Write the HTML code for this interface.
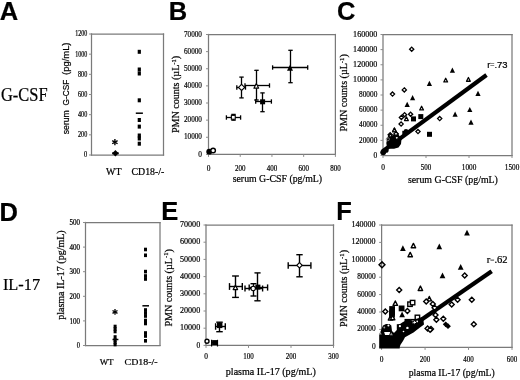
<!DOCTYPE html>
<html><head><meta charset="utf-8"><style>
html,body{margin:0;padding:0;background:#fff;}
svg{display:block;filter:grayscale(100%);}
text{stroke:#000;stroke-width:0.22px;}
</style></head><body>
<svg width="520" height="380" viewBox="0 0 520 380">
<rect width="520" height="380" fill="#fff"/>
<text x="-0.20" y="20.00" font-family="&quot;Liberation Sans&quot;, sans-serif" font-size="25.5" font-weight="bold" text-anchor="start" fill="#000">A</text>
<text x="1.00" y="101.40" font-family="&quot;Liberation Serif&quot;, serif" font-size="18" font-weight="normal" text-anchor="start" fill="#000" textLength="46.6" lengthAdjust="spacingAndGlyphs">G-CSF</text>
<line x1="91.50" y1="33.38" x2="91.50" y2="155.62" stroke="#7a7a7a" stroke-width="1.25"/>
<line x1="163.50" y1="33.38" x2="163.50" y2="155.62" stroke="#7a7a7a" stroke-width="1.25"/>
<line x1="90.88" y1="34.00" x2="164.12" y2="34.00" stroke="#7a7a7a" stroke-width="1.25"/>
<line x1="90.88" y1="155.00" x2="164.12" y2="155.00" stroke="#7a7a7a" stroke-width="1.25"/>
<line x1="89.00" y1="155.00" x2="91.50" y2="155.00" stroke="#8c8c8c" stroke-width="1"/>
<text x="87.20" y="157.40" font-family="&quot;Liberation Serif&quot;, serif" font-size="7.5" font-weight="normal" text-anchor="end" fill="#000" textLength="3.2" lengthAdjust="spacingAndGlyphs">0</text>
<line x1="89.00" y1="134.83" x2="91.50" y2="134.83" stroke="#8c8c8c" stroke-width="1"/>
<text x="87.20" y="137.23" font-family="&quot;Liberation Serif&quot;, serif" font-size="7.5" font-weight="normal" text-anchor="end" fill="#000" textLength="9.2" lengthAdjust="spacingAndGlyphs">200</text>
<line x1="89.00" y1="114.67" x2="91.50" y2="114.67" stroke="#8c8c8c" stroke-width="1"/>
<text x="87.20" y="117.07" font-family="&quot;Liberation Serif&quot;, serif" font-size="7.5" font-weight="normal" text-anchor="end" fill="#000" textLength="9.2" lengthAdjust="spacingAndGlyphs">400</text>
<line x1="89.00" y1="94.50" x2="91.50" y2="94.50" stroke="#8c8c8c" stroke-width="1"/>
<text x="87.20" y="96.90" font-family="&quot;Liberation Serif&quot;, serif" font-size="7.5" font-weight="normal" text-anchor="end" fill="#000" textLength="9.2" lengthAdjust="spacingAndGlyphs">600</text>
<line x1="89.00" y1="74.33" x2="91.50" y2="74.33" stroke="#8c8c8c" stroke-width="1"/>
<text x="87.20" y="76.73" font-family="&quot;Liberation Serif&quot;, serif" font-size="7.5" font-weight="normal" text-anchor="end" fill="#000" textLength="9.2" lengthAdjust="spacingAndGlyphs">800</text>
<line x1="89.00" y1="54.17" x2="91.50" y2="54.17" stroke="#8c8c8c" stroke-width="1"/>
<text x="87.20" y="56.57" font-family="&quot;Liberation Serif&quot;, serif" font-size="7.5" font-weight="normal" text-anchor="end" fill="#000" textLength="12" lengthAdjust="spacingAndGlyphs">1000</text>
<line x1="89.00" y1="34.00" x2="91.50" y2="34.00" stroke="#8c8c8c" stroke-width="1"/>
<text x="87.20" y="36.40" font-family="&quot;Liberation Serif&quot;, serif" font-size="7.5" font-weight="normal" text-anchor="end" fill="#000" textLength="12" lengthAdjust="spacingAndGlyphs">1200</text>
<text transform="translate(69.00,134.20) rotate(-90)" x="0" y="0" font-family="&quot;Liberation Sans&quot;, sans-serif" font-size="8.9" font-weight="normal" text-anchor="start" fill="#000" textLength="24" lengthAdjust="spacingAndGlyphs">serum</text>
<text transform="translate(69.00,105.40) rotate(-90)" x="0" y="0" font-family="&quot;Liberation Sans&quot;, sans-serif" font-size="8.9" font-weight="normal" text-anchor="start" fill="#000" textLength="25.8" lengthAdjust="spacingAndGlyphs">G-CSF</text>
<text transform="translate(68.90,74.90) rotate(-90)" x="0" y="0" font-family="&quot;Liberation Sans&quot;, sans-serif" font-size="8.9" font-weight="normal" text-anchor="start" fill="#000" textLength="32.4" lengthAdjust="spacingAndGlyphs">(pg/mL)</text>
<text x="113.80" y="175.10" font-family="&quot;Liberation Serif&quot;, serif" font-size="9.6" font-weight="normal" text-anchor="middle" fill="#000" textLength="15.4" lengthAdjust="spacingAndGlyphs">WT</text>
<text x="147.90" y="175.10" font-family="&quot;Liberation Serif&quot;, serif" font-size="9.6" font-weight="normal" text-anchor="middle" fill="#000" textLength="32.7" lengthAdjust="spacingAndGlyphs">CD18-/-</text>
<path d="M115.40,150.10 L118.60,153.30 L115.40,156.50 L112.20,153.30 Z" fill="#000"/>
<line x1="112.20" y1="153.30" x2="118.70" y2="153.30" stroke="#000" stroke-width="2"/>
<line x1="114.90" y1="139.10" x2="114.90" y2="145.30" stroke="#000" stroke-width="1.4"/>
<line x1="112.22" y1="140.65" x2="117.58" y2="143.75" stroke="#000" stroke-width="1.4"/>
<line x1="117.58" y1="140.65" x2="112.22" y2="143.75" stroke="#000" stroke-width="1.4"/>
<rect x="137.70" y="49.80" width="3.20" height="4.00" fill="#000" stroke="none" stroke-width="1"/>
<rect x="137.70" y="67.50" width="3.20" height="4.00" fill="#000" stroke="none" stroke-width="1"/>
<rect x="137.70" y="71.50" width="3.20" height="4.00" fill="#000" stroke="none" stroke-width="1"/>
<rect x="137.70" y="98.30" width="3.20" height="4.00" fill="#000" stroke="none" stroke-width="1"/>
<rect x="137.70" y="118.00" width="3.20" height="4.00" fill="#000" stroke="none" stroke-width="1"/>
<rect x="137.70" y="124.60" width="3.20" height="4.00" fill="#000" stroke="none" stroke-width="1"/>
<rect x="137.70" y="133.50" width="3.20" height="4.00" fill="#000" stroke="none" stroke-width="1"/>
<rect x="137.70" y="136.50" width="3.20" height="4.00" fill="#000" stroke="none" stroke-width="1"/>
<rect x="137.70" y="141.70" width="3.20" height="4.00" fill="#000" stroke="none" stroke-width="1"/>
<line x1="135.80" y1="113.20" x2="142.90" y2="113.20" stroke="#000" stroke-width="1.5"/>
<text x="168.70" y="20.00" font-family="&quot;Liberation Sans&quot;, sans-serif" font-size="25.5" font-weight="bold" text-anchor="start" fill="#000">B</text>
<line x1="208.50" y1="33.88" x2="208.50" y2="155.03" stroke="#7a7a7a" stroke-width="1.25"/>
<line x1="335.40" y1="33.88" x2="335.40" y2="155.03" stroke="#7a7a7a" stroke-width="1.25"/>
<line x1="207.88" y1="34.50" x2="336.02" y2="34.50" stroke="#7a7a7a" stroke-width="1.25"/>
<line x1="207.88" y1="154.40" x2="336.02" y2="154.40" stroke="#7a7a7a" stroke-width="1.25"/>
<line x1="206.00" y1="154.40" x2="208.50" y2="154.40" stroke="#8c8c8c" stroke-width="1"/>
<text x="202.00" y="156.50" font-family="&quot;Liberation Serif&quot;, serif" font-size="9" font-weight="normal" text-anchor="end" fill="#000" textLength="3.7" lengthAdjust="spacingAndGlyphs">0</text>
<line x1="206.00" y1="137.27" x2="208.50" y2="137.27" stroke="#8c8c8c" stroke-width="1"/>
<text x="202.00" y="139.37" font-family="&quot;Liberation Serif&quot;, serif" font-size="9" font-weight="normal" text-anchor="end" fill="#000" textLength="18.1" lengthAdjust="spacingAndGlyphs">10000</text>
<line x1="206.00" y1="120.14" x2="208.50" y2="120.14" stroke="#8c8c8c" stroke-width="1"/>
<text x="202.00" y="122.24" font-family="&quot;Liberation Serif&quot;, serif" font-size="9" font-weight="normal" text-anchor="end" fill="#000" textLength="18.1" lengthAdjust="spacingAndGlyphs">20000</text>
<line x1="206.00" y1="103.01" x2="208.50" y2="103.01" stroke="#8c8c8c" stroke-width="1"/>
<text x="202.00" y="105.11" font-family="&quot;Liberation Serif&quot;, serif" font-size="9" font-weight="normal" text-anchor="end" fill="#000" textLength="18.1" lengthAdjust="spacingAndGlyphs">30000</text>
<line x1="206.00" y1="85.89" x2="208.50" y2="85.89" stroke="#8c8c8c" stroke-width="1"/>
<text x="202.00" y="87.99" font-family="&quot;Liberation Serif&quot;, serif" font-size="9" font-weight="normal" text-anchor="end" fill="#000" textLength="18.1" lengthAdjust="spacingAndGlyphs">40000</text>
<line x1="206.00" y1="68.76" x2="208.50" y2="68.76" stroke="#8c8c8c" stroke-width="1"/>
<text x="202.00" y="70.86" font-family="&quot;Liberation Serif&quot;, serif" font-size="9" font-weight="normal" text-anchor="end" fill="#000" textLength="18.1" lengthAdjust="spacingAndGlyphs">50000</text>
<line x1="206.00" y1="51.63" x2="208.50" y2="51.63" stroke="#8c8c8c" stroke-width="1"/>
<text x="202.00" y="53.73" font-family="&quot;Liberation Serif&quot;, serif" font-size="9" font-weight="normal" text-anchor="end" fill="#000" textLength="18.1" lengthAdjust="spacingAndGlyphs">60000</text>
<line x1="206.00" y1="34.50" x2="208.50" y2="34.50" stroke="#8c8c8c" stroke-width="1"/>
<text x="202.00" y="36.60" font-family="&quot;Liberation Serif&quot;, serif" font-size="9" font-weight="normal" text-anchor="end" fill="#000" textLength="18.1" lengthAdjust="spacingAndGlyphs">70000</text>
<line x1="208.50" y1="154.40" x2="208.50" y2="156.90" stroke="#8c8c8c" stroke-width="1"/>
<text x="208.50" y="170.50" font-family="&quot;Liberation Serif&quot;, serif" font-size="9" font-weight="normal" text-anchor="middle" fill="#000" textLength="3.7" lengthAdjust="spacingAndGlyphs">0</text>
<line x1="240.22" y1="154.40" x2="240.22" y2="156.90" stroke="#8c8c8c" stroke-width="1"/>
<text x="240.22" y="170.50" font-family="&quot;Liberation Serif&quot;, serif" font-size="9" font-weight="normal" text-anchor="middle" fill="#000" textLength="10.5" lengthAdjust="spacingAndGlyphs">200</text>
<line x1="271.95" y1="154.40" x2="271.95" y2="156.90" stroke="#8c8c8c" stroke-width="1"/>
<text x="271.95" y="170.50" font-family="&quot;Liberation Serif&quot;, serif" font-size="9" font-weight="normal" text-anchor="middle" fill="#000" textLength="10.5" lengthAdjust="spacingAndGlyphs">400</text>
<line x1="303.67" y1="154.40" x2="303.67" y2="156.90" stroke="#8c8c8c" stroke-width="1"/>
<text x="303.67" y="170.50" font-family="&quot;Liberation Serif&quot;, serif" font-size="9" font-weight="normal" text-anchor="middle" fill="#000" textLength="10.5" lengthAdjust="spacingAndGlyphs">600</text>
<line x1="335.40" y1="154.40" x2="335.40" y2="156.90" stroke="#8c8c8c" stroke-width="1"/>
<text x="335.40" y="170.50" font-family="&quot;Liberation Serif&quot;, serif" font-size="9" font-weight="normal" text-anchor="middle" fill="#000" textLength="10.5" lengthAdjust="spacingAndGlyphs">800</text>
<text x="277.40" y="181.50" font-family="&quot;Liberation Serif&quot;, serif" font-size="10.5" font-weight="normal" text-anchor="middle" fill="#000" textLength="89.4" lengthAdjust="spacingAndGlyphs">serum G-CSF (pg/mL)</text>
<text transform="translate(179,133) rotate(-90)" font-family="&quot;Liberation Serif&quot;, serif" font-size="9.8" textLength="77.2" lengthAdjust="spacingAndGlyphs">PMN counts (µL<tspan font-size="6.5" dy="-3.5">-1</tspan><tspan dy="3.5">)</tspan></text>
<line x1="233.50" y1="114.40" x2="233.50" y2="120.20" stroke="#000" stroke-width="1.3"/>
<line x1="231.30" y1="114.40" x2="235.70" y2="114.40" stroke="#000" stroke-width="1.3"/>
<line x1="231.30" y1="120.20" x2="235.70" y2="120.20" stroke="#000" stroke-width="1.3"/>
<line x1="226.40" y1="117.50" x2="240.60" y2="117.50" stroke="#000" stroke-width="1.3"/>
<line x1="226.40" y1="115.30" x2="226.40" y2="119.70" stroke="#000" stroke-width="1.3"/>
<line x1="240.60" y1="115.30" x2="240.60" y2="119.70" stroke="#000" stroke-width="1.3"/>
<rect x="231.35" y="115.35" width="3.90" height="3.90" fill="#fff" stroke="#000" stroke-width="1.1"/>
<line x1="241.50" y1="77.10" x2="241.50" y2="97.90" stroke="#000" stroke-width="1.3"/>
<line x1="239.30" y1="77.10" x2="243.70" y2="77.10" stroke="#000" stroke-width="1.3"/>
<line x1="239.30" y1="97.90" x2="243.70" y2="97.90" stroke="#000" stroke-width="1.3"/>
<line x1="236.80" y1="87.50" x2="245.50" y2="87.50" stroke="#000" stroke-width="1.3"/>
<line x1="236.80" y1="85.30" x2="236.80" y2="89.70" stroke="#000" stroke-width="1.3"/>
<line x1="245.50" y1="85.30" x2="245.50" y2="89.70" stroke="#000" stroke-width="1.3"/>
<line x1="256.50" y1="70.30" x2="256.50" y2="100.00" stroke="#000" stroke-width="1.3"/>
<line x1="254.30" y1="70.30" x2="258.70" y2="70.30" stroke="#000" stroke-width="1.3"/>
<line x1="254.30" y1="100.00" x2="258.70" y2="100.00" stroke="#000" stroke-width="1.3"/>
<line x1="245.00" y1="85.50" x2="269.50" y2="85.50" stroke="#000" stroke-width="1.3"/>
<line x1="245.00" y1="83.30" x2="245.00" y2="87.70" stroke="#000" stroke-width="1.3"/>
<line x1="269.50" y1="83.30" x2="269.50" y2="87.70" stroke="#000" stroke-width="1.3"/>
<line x1="262.50" y1="92.90" x2="262.50" y2="111.70" stroke="#000" stroke-width="1.3"/>
<line x1="260.30" y1="92.90" x2="264.70" y2="92.90" stroke="#000" stroke-width="1.3"/>
<line x1="260.30" y1="111.70" x2="264.70" y2="111.70" stroke="#000" stroke-width="1.3"/>
<line x1="255.70" y1="101.50" x2="271.40" y2="101.50" stroke="#000" stroke-width="1.3"/>
<line x1="255.70" y1="99.30" x2="255.70" y2="103.70" stroke="#000" stroke-width="1.3"/>
<line x1="271.40" y1="99.30" x2="271.40" y2="103.70" stroke="#000" stroke-width="1.3"/>
<line x1="290.50" y1="50.30" x2="290.50" y2="82.70" stroke="#000" stroke-width="1.3"/>
<line x1="288.30" y1="50.30" x2="292.70" y2="50.30" stroke="#000" stroke-width="1.3"/>
<line x1="288.30" y1="82.70" x2="292.70" y2="82.70" stroke="#000" stroke-width="1.3"/>
<line x1="272.60" y1="67.50" x2="307.70" y2="67.50" stroke="#000" stroke-width="1.3"/>
<line x1="272.60" y1="65.30" x2="272.60" y2="69.70" stroke="#000" stroke-width="1.3"/>
<line x1="307.70" y1="65.30" x2="307.70" y2="69.70" stroke="#000" stroke-width="1.3"/>
<path d="M241.60,84.30 L244.70,87.40 L241.60,90.50 L238.50,87.40 Z" fill="#fff" stroke="#000" stroke-width="1.1"/>
<path d="M256.30,83.39 L258.69,88.13 L253.91,88.13 Z" fill="#fff" stroke="#000" stroke-width="1.1" stroke-linejoin="round"/>
<rect x="260.10" y="99.30" width="5.00" height="5.00" fill="#000" stroke="none" stroke-width="1"/>
<path d="M290.00,64.78 L293.00,70.78 L287.00,70.78 Z" fill="#000"/>
<circle cx="209.20" cy="151.70" r="2.90" fill="#000"/>
<circle cx="213.10" cy="150.50" r="2.30" fill="#fff" stroke="#000" stroke-width="1.4"/>
<text x="337.00" y="19.80" font-family="&quot;Liberation Sans&quot;, sans-serif" font-size="25.5" font-weight="bold" text-anchor="start" fill="#000">C</text>
<line x1="383.00" y1="33.88" x2="383.00" y2="156.12" stroke="#7a7a7a" stroke-width="1.25"/>
<line x1="512.00" y1="33.88" x2="512.00" y2="156.12" stroke="#7a7a7a" stroke-width="1.25"/>
<line x1="382.38" y1="34.50" x2="512.62" y2="34.50" stroke="#7a7a7a" stroke-width="1.25"/>
<line x1="382.38" y1="155.50" x2="512.62" y2="155.50" stroke="#7a7a7a" stroke-width="1.25"/>
<line x1="380.50" y1="155.50" x2="383.00" y2="155.50" stroke="#8c8c8c" stroke-width="1"/>
<text x="377.30" y="157.70" font-family="&quot;Liberation Serif&quot;, serif" font-size="9" font-weight="normal" text-anchor="end" fill="#000" textLength="3.7" lengthAdjust="spacingAndGlyphs">0</text>
<line x1="380.50" y1="140.38" x2="383.00" y2="140.38" stroke="#8c8c8c" stroke-width="1"/>
<text x="377.30" y="142.57" font-family="&quot;Liberation Serif&quot;, serif" font-size="9" font-weight="normal" text-anchor="end" fill="#000" textLength="18.3" lengthAdjust="spacingAndGlyphs">20000</text>
<line x1="380.50" y1="125.25" x2="383.00" y2="125.25" stroke="#8c8c8c" stroke-width="1"/>
<text x="377.30" y="127.45" font-family="&quot;Liberation Serif&quot;, serif" font-size="9" font-weight="normal" text-anchor="end" fill="#000" textLength="18.3" lengthAdjust="spacingAndGlyphs">40000</text>
<line x1="380.50" y1="110.12" x2="383.00" y2="110.12" stroke="#8c8c8c" stroke-width="1"/>
<text x="377.30" y="112.33" font-family="&quot;Liberation Serif&quot;, serif" font-size="9" font-weight="normal" text-anchor="end" fill="#000" textLength="18.3" lengthAdjust="spacingAndGlyphs">60000</text>
<line x1="380.50" y1="95.00" x2="383.00" y2="95.00" stroke="#8c8c8c" stroke-width="1"/>
<text x="377.30" y="97.20" font-family="&quot;Liberation Serif&quot;, serif" font-size="9" font-weight="normal" text-anchor="end" fill="#000" textLength="18.3" lengthAdjust="spacingAndGlyphs">80000</text>
<line x1="380.50" y1="79.88" x2="383.00" y2="79.88" stroke="#8c8c8c" stroke-width="1"/>
<text x="377.30" y="82.08" font-family="&quot;Liberation Serif&quot;, serif" font-size="9" font-weight="normal" text-anchor="end" fill="#000" textLength="24.2" lengthAdjust="spacingAndGlyphs">100000</text>
<line x1="380.50" y1="64.75" x2="383.00" y2="64.75" stroke="#8c8c8c" stroke-width="1"/>
<text x="377.30" y="66.95" font-family="&quot;Liberation Serif&quot;, serif" font-size="9" font-weight="normal" text-anchor="end" fill="#000" textLength="24.2" lengthAdjust="spacingAndGlyphs">120000</text>
<line x1="380.50" y1="49.62" x2="383.00" y2="49.62" stroke="#8c8c8c" stroke-width="1"/>
<text x="377.30" y="51.83" font-family="&quot;Liberation Serif&quot;, serif" font-size="9" font-weight="normal" text-anchor="end" fill="#000" textLength="24.2" lengthAdjust="spacingAndGlyphs">140000</text>
<line x1="380.50" y1="34.50" x2="383.00" y2="34.50" stroke="#8c8c8c" stroke-width="1"/>
<text x="377.30" y="36.70" font-family="&quot;Liberation Serif&quot;, serif" font-size="9" font-weight="normal" text-anchor="end" fill="#000" textLength="24.2" lengthAdjust="spacingAndGlyphs">160000</text>
<line x1="383.00" y1="155.50" x2="383.00" y2="158.00" stroke="#8c8c8c" stroke-width="1"/>
<text x="383.00" y="169.50" font-family="&quot;Liberation Serif&quot;, serif" font-size="9" font-weight="normal" text-anchor="middle" fill="#000" textLength="3.7" lengthAdjust="spacingAndGlyphs">0</text>
<line x1="426.00" y1="155.50" x2="426.00" y2="158.00" stroke="#8c8c8c" stroke-width="1"/>
<text x="426.00" y="169.50" font-family="&quot;Liberation Serif&quot;, serif" font-size="9" font-weight="normal" text-anchor="middle" fill="#000" textLength="10.5" lengthAdjust="spacingAndGlyphs">500</text>
<line x1="469.00" y1="155.50" x2="469.00" y2="158.00" stroke="#8c8c8c" stroke-width="1"/>
<text x="469.00" y="169.50" font-family="&quot;Liberation Serif&quot;, serif" font-size="9" font-weight="normal" text-anchor="middle" fill="#000" textLength="14.5" lengthAdjust="spacingAndGlyphs">1000</text>
<line x1="512.00" y1="155.50" x2="512.00" y2="158.00" stroke="#8c8c8c" stroke-width="1"/>
<text x="512.00" y="169.50" font-family="&quot;Liberation Serif&quot;, serif" font-size="9" font-weight="normal" text-anchor="middle" fill="#000" textLength="14.5" lengthAdjust="spacingAndGlyphs">1500</text>
<text x="452.90" y="182.60" font-family="&quot;Liberation Serif&quot;, serif" font-size="10.5" font-weight="normal" text-anchor="middle" fill="#000" textLength="90" lengthAdjust="spacingAndGlyphs">serum G-CSF (pg/mL)</text>
<text transform="translate(347,131.5) rotate(-90)" font-family="&quot;Liberation Serif&quot;, serif" font-size="9.8" textLength="77.3" lengthAdjust="spacingAndGlyphs">PMN counts (µL<tspan font-size="6.5" dy="-3.5">-1</tspan><tspan dy="3.5">)</tspan></text>
<text x="487.2" y="67.8" font-family="&quot;Liberation Sans&quot;, sans-serif" font-size="9.4" textLength="20.4" lengthAdjust="spacingAndGlyphs">r<tspan font-size="7" fill="#666" stroke="#666" dy="-0.8">=</tspan><tspan dy="0.8">.73</tspan></text>
<line x1="382.50" y1="151.40" x2="486.50" y2="75.00" stroke="#000" stroke-width="4.2"/>
<path d="M411.70,47.10 L413.80,49.20 L411.70,51.30 L409.60,49.20 Z" fill="#fff" stroke="#000" stroke-width="1.3"/>
<path d="M404.30,87.80 L406.40,89.90 L404.30,92.00 L402.20,89.90 Z" fill="#fff" stroke="#000" stroke-width="1.3"/>
<path d="M392.50,92.00 L394.60,94.10 L392.50,96.20 L390.40,94.10 Z" fill="#fff" stroke="#000" stroke-width="1.3"/>
<path d="M429.40,80.70 L432.00,85.90 L426.80,85.90 Z" fill="#000"/>
<path d="M445.70,78.24 L447.59,81.95 L443.81,81.95 Z" fill="#fff" stroke="#000" stroke-width="1.3" stroke-linejoin="round"/>
<path d="M412.60,95.10 L415.20,100.30 L410.00,100.30 Z" fill="#000"/>
<path d="M452.40,67.50 L455.00,72.70 L449.80,72.70 Z" fill="#000"/>
<path d="M468.40,77.54 L470.29,81.25 L466.51,81.25 Z" fill="#fff" stroke="#000" stroke-width="1.3" stroke-linejoin="round"/>
<path d="M478.00,90.80 L480.60,96.00 L475.40,96.00 Z" fill="#000"/>
<path d="M469.80,106.90 L472.40,112.10 L467.20,112.10 Z" fill="#000"/>
<path d="M455.10,111.60 L457.70,116.80 L452.50,116.80 Z" fill="#000"/>
<path d="M471.00,119.60 L473.60,124.80 L468.40,124.80 Z" fill="#000"/>
<rect x="427.00" y="131.80" width="5.00" height="5.00" fill="#000" stroke="none" stroke-width="1"/>
<path d="M439.70,116.50 L441.80,118.60 L439.70,120.70 L437.60,118.60 Z" fill="#fff" stroke="#000" stroke-width="1.3"/>
<path d="M421.60,106.24 L423.49,109.95 L419.71,109.95 Z" fill="#fff" stroke="#000" stroke-width="1.3" stroke-linejoin="round"/>
<rect x="418.30" y="114.10" width="5.00" height="5.00" fill="#000" stroke="none" stroke-width="1"/>
<rect x="411.00" y="116.40" width="5.00" height="5.00" fill="#000" stroke="none" stroke-width="1"/>
<path d="M407.20,101.70 L409.80,106.90 L404.60,106.90 Z" fill="#000"/>
<path d="M410.60,112.10 L412.70,114.20 L410.60,116.30 L408.50,114.20 Z" fill="#fff" stroke="#000" stroke-width="1.3"/>
<path d="M404.60,112.60 L406.70,114.70 L404.60,116.80 L402.50,114.70 Z" fill="#fff" stroke="#000" stroke-width="1.3"/>
<path d="M401.40,115.30 L403.50,117.40 L401.40,119.50 L399.30,117.40 Z" fill="#fff" stroke="#000" stroke-width="1.3"/>
<path d="M406.40,116.84 L408.29,120.55 L404.51,120.55 Z" fill="#fff" stroke="#000" stroke-width="1.3" stroke-linejoin="round"/>
<path d="M401.10,121.90 L403.20,124.00 L401.10,126.10 L399.00,124.00 Z" fill="#fff" stroke="#000" stroke-width="1.3"/>
<path d="M394.40,128.14 L396.29,131.85 L392.51,131.85 Z" fill="#fff" stroke="#000" stroke-width="1.3" stroke-linejoin="round"/>
<path d="M396.20,131.80 L398.30,133.90 L396.20,136.00 L394.10,133.90 Z" fill="#fff" stroke="#000" stroke-width="1.3"/>
<path d="M390.20,132.60 L392.30,134.70 L390.20,136.80 L388.10,134.70 Z" fill="#fff" stroke="#000" stroke-width="1.3"/>
<path d="M418.00,129.50 L420.10,131.60 L418.00,133.70 L415.90,131.60 Z" fill="#fff" stroke="#000" stroke-width="1.3"/>
<path d="M387.5,137 L390,133.5 L392.5,135.5 L394,134 L398,134 L399.5,136 L401.5,139 L401,144 L398.5,147.5 L394,148.8 L390,148.8 L387,147.5 L386.3,143 L387,140 Z" fill="#000"/>
<path d="M394.40,127.92 L396.09,131.26 L392.70,131.26 Z" fill="#fff" stroke="#000" stroke-width="1.1" stroke-linejoin="round"/>
<path d="M390.30,133.52 L392.00,136.86 L388.61,136.86 Z" fill="#fff" stroke="#000" stroke-width="1.1" stroke-linejoin="round"/>
<path d="M396.00,131.90 L397.90,133.80 L396.00,135.70 L394.10,133.80 Z" fill="#fff" stroke="#000" stroke-width="1.1"/>
<path d="M396.80,135.90 L398.70,137.80 L396.80,139.70 L394.90,137.80 Z" fill="#fff" stroke="#000" stroke-width="1.1"/>
<circle cx="387.8" cy="139.2" r="1.6" fill="none" stroke="#777" stroke-width="0.9"/>
<rect x="402.30" y="130.80" width="4.00" height="4.00" fill="#000" stroke="none" stroke-width="1"/>
<circle cx="383.2" cy="152.3" r="2.9" fill="#000"/>
<circle cx="386" cy="150.2" r="2.6" fill="#000"/>
<circle cx="406" cy="131.2" r="2.3" fill="#000"/>
<text x="-0.40" y="220.60" font-family="&quot;Liberation Sans&quot;, sans-serif" font-size="25.5" font-weight="bold" text-anchor="start" fill="#000">D</text>
<text x="2.90" y="289.60" font-family="&quot;Liberation Serif&quot;, serif" font-size="17.6" font-weight="normal" text-anchor="start" fill="#000" textLength="37.2" lengthAdjust="spacingAndGlyphs">IL-17</text>
<line x1="85.50" y1="221.88" x2="85.50" y2="346.12" stroke="#7a7a7a" stroke-width="1.25"/>
<line x1="160.00" y1="221.88" x2="160.00" y2="346.12" stroke="#7a7a7a" stroke-width="1.25"/>
<line x1="84.88" y1="222.50" x2="160.62" y2="222.50" stroke="#7a7a7a" stroke-width="1.25"/>
<line x1="84.88" y1="345.50" x2="160.62" y2="345.50" stroke="#7a7a7a" stroke-width="1.25"/>
<line x1="83.00" y1="345.50" x2="85.50" y2="345.50" stroke="#8c8c8c" stroke-width="1"/>
<text x="80.00" y="348.10" font-family="&quot;Liberation Serif&quot;, serif" font-size="7.5" font-weight="normal" text-anchor="end" fill="#000" textLength="3.2" lengthAdjust="spacingAndGlyphs">0</text>
<line x1="83.00" y1="320.90" x2="85.50" y2="320.90" stroke="#8c8c8c" stroke-width="1"/>
<text x="80.00" y="323.50" font-family="&quot;Liberation Serif&quot;, serif" font-size="7.5" font-weight="normal" text-anchor="end" fill="#000" textLength="10.5" lengthAdjust="spacingAndGlyphs">100</text>
<line x1="83.00" y1="296.30" x2="85.50" y2="296.30" stroke="#8c8c8c" stroke-width="1"/>
<text x="80.00" y="298.90" font-family="&quot;Liberation Serif&quot;, serif" font-size="7.5" font-weight="normal" text-anchor="end" fill="#000" textLength="10.5" lengthAdjust="spacingAndGlyphs">200</text>
<line x1="83.00" y1="271.70" x2="85.50" y2="271.70" stroke="#8c8c8c" stroke-width="1"/>
<text x="80.00" y="274.30" font-family="&quot;Liberation Serif&quot;, serif" font-size="7.5" font-weight="normal" text-anchor="end" fill="#000" textLength="10.5" lengthAdjust="spacingAndGlyphs">300</text>
<line x1="83.00" y1="247.10" x2="85.50" y2="247.10" stroke="#8c8c8c" stroke-width="1"/>
<text x="80.00" y="249.70" font-family="&quot;Liberation Serif&quot;, serif" font-size="7.5" font-weight="normal" text-anchor="end" fill="#000" textLength="10.5" lengthAdjust="spacingAndGlyphs">400</text>
<line x1="83.00" y1="222.50" x2="85.50" y2="222.50" stroke="#8c8c8c" stroke-width="1"/>
<text x="80.00" y="225.10" font-family="&quot;Liberation Serif&quot;, serif" font-size="7.5" font-weight="normal" text-anchor="end" fill="#000" textLength="10.5" lengthAdjust="spacingAndGlyphs">500</text>
<text transform="translate(63.70,319.80) rotate(-90)" x="0" y="0" font-family="&quot;Liberation Serif&quot;, serif" font-size="9.6" font-weight="normal" text-anchor="start" fill="#000" textLength="89.5" lengthAdjust="spacingAndGlyphs">plasma IL-17 (pg/mL)</text>
<text x="106.60" y="365.10" font-family="&quot;Liberation Serif&quot;, serif" font-size="9" font-weight="normal" text-anchor="middle" fill="#000" textLength="13.9" lengthAdjust="spacingAndGlyphs">WT</text>
<text x="141.10" y="365.10" font-family="&quot;Liberation Serif&quot;, serif" font-size="9" font-weight="normal" text-anchor="middle" fill="#000" textLength="33" lengthAdjust="spacingAndGlyphs">CD18-/-</text>
<line x1="115.00" y1="309.00" x2="115.00" y2="314.80" stroke="#000" stroke-width="1.3"/>
<line x1="112.49" y1="310.45" x2="117.51" y2="313.35" stroke="#000" stroke-width="1.3"/>
<line x1="117.51" y1="310.45" x2="112.49" y2="313.35" stroke="#000" stroke-width="1.3"/>
<rect x="113.60" y="324.70" width="3.00" height="3.60" fill="#000" stroke="none" stroke-width="1"/>
<rect x="113.60" y="327.20" width="3.00" height="3.60" fill="#000" stroke="none" stroke-width="1"/>
<rect x="113.60" y="329.70" width="3.00" height="3.60" fill="#000" stroke="none" stroke-width="1"/>
<rect x="113.60" y="335.20" width="3.00" height="3.60" fill="#000" stroke="none" stroke-width="1"/>
<rect x="113.60" y="338.20" width="3.00" height="3.60" fill="#000" stroke="none" stroke-width="1"/>
<rect x="113.60" y="340.70" width="3.00" height="3.60" fill="#000" stroke="none" stroke-width="1"/>
<rect x="113.60" y="342.70" width="3.00" height="3.60" fill="#000" stroke="none" stroke-width="1"/>
<line x1="112.50" y1="339.50" x2="118.40" y2="339.50" stroke="#000" stroke-width="1.5"/>
<rect x="144.00" y="247.70" width="3.00" height="3.60" fill="#000" stroke="none" stroke-width="1"/>
<rect x="144.00" y="253.50" width="3.00" height="3.60" fill="#000" stroke="none" stroke-width="1"/>
<rect x="144.00" y="269.80" width="3.00" height="3.60" fill="#000" stroke="none" stroke-width="1"/>
<rect x="144.00" y="274.20" width="3.00" height="3.60" fill="#000" stroke="none" stroke-width="1"/>
<rect x="144.00" y="277.20" width="3.00" height="3.60" fill="#000" stroke="none" stroke-width="1"/>
<rect x="144.00" y="308.20" width="3.00" height="3.60" fill="#000" stroke="none" stroke-width="1"/>
<rect x="144.00" y="311.20" width="3.00" height="3.60" fill="#000" stroke="none" stroke-width="1"/>
<rect x="144.00" y="314.20" width="3.00" height="3.60" fill="#000" stroke="none" stroke-width="1"/>
<rect x="144.00" y="318.70" width="3.00" height="3.60" fill="#000" stroke="none" stroke-width="1"/>
<rect x="144.00" y="321.70" width="3.00" height="3.60" fill="#000" stroke="none" stroke-width="1"/>
<rect x="144.00" y="331.20" width="3.00" height="3.60" fill="#000" stroke="none" stroke-width="1"/>
<rect x="144.00" y="334.20" width="3.00" height="3.60" fill="#000" stroke="none" stroke-width="1"/>
<rect x="144.00" y="339.00" width="3.00" height="3.60" fill="#000" stroke="none" stroke-width="1"/>
<line x1="142.40" y1="305.80" x2="149.00" y2="305.80" stroke="#000" stroke-width="1.5"/>
<text x="161.30" y="220.00" font-family="&quot;Liberation Sans&quot;, sans-serif" font-size="25.5" font-weight="bold" text-anchor="start" fill="#000">E</text>
<line x1="206.00" y1="224.38" x2="206.00" y2="346.02" stroke="#7a7a7a" stroke-width="1.25"/>
<line x1="333.50" y1="224.38" x2="333.50" y2="346.02" stroke="#7a7a7a" stroke-width="1.25"/>
<line x1="205.38" y1="225.00" x2="334.12" y2="225.00" stroke="#7a7a7a" stroke-width="1.25"/>
<line x1="205.38" y1="345.40" x2="334.12" y2="345.40" stroke="#7a7a7a" stroke-width="1.25"/>
<line x1="203.50" y1="345.40" x2="206.00" y2="345.40" stroke="#8c8c8c" stroke-width="1"/>
<text x="200.20" y="347.50" font-family="&quot;Liberation Serif&quot;, serif" font-size="9" font-weight="normal" text-anchor="end" fill="#000" textLength="3.7" lengthAdjust="spacingAndGlyphs">0</text>
<line x1="203.50" y1="328.20" x2="206.00" y2="328.20" stroke="#8c8c8c" stroke-width="1"/>
<text x="200.20" y="330.30" font-family="&quot;Liberation Serif&quot;, serif" font-size="9" font-weight="normal" text-anchor="end" fill="#000" textLength="20.3" lengthAdjust="spacingAndGlyphs">10000</text>
<line x1="203.50" y1="311.00" x2="206.00" y2="311.00" stroke="#8c8c8c" stroke-width="1"/>
<text x="200.20" y="313.10" font-family="&quot;Liberation Serif&quot;, serif" font-size="9" font-weight="normal" text-anchor="end" fill="#000" textLength="20.3" lengthAdjust="spacingAndGlyphs">20000</text>
<line x1="203.50" y1="293.80" x2="206.00" y2="293.80" stroke="#8c8c8c" stroke-width="1"/>
<text x="200.20" y="295.90" font-family="&quot;Liberation Serif&quot;, serif" font-size="9" font-weight="normal" text-anchor="end" fill="#000" textLength="20.3" lengthAdjust="spacingAndGlyphs">30000</text>
<line x1="203.50" y1="276.60" x2="206.00" y2="276.60" stroke="#8c8c8c" stroke-width="1"/>
<text x="200.20" y="278.70" font-family="&quot;Liberation Serif&quot;, serif" font-size="9" font-weight="normal" text-anchor="end" fill="#000" textLength="20.3" lengthAdjust="spacingAndGlyphs">40000</text>
<line x1="203.50" y1="259.40" x2="206.00" y2="259.40" stroke="#8c8c8c" stroke-width="1"/>
<text x="200.20" y="261.50" font-family="&quot;Liberation Serif&quot;, serif" font-size="9" font-weight="normal" text-anchor="end" fill="#000" textLength="20.3" lengthAdjust="spacingAndGlyphs">50000</text>
<line x1="203.50" y1="242.20" x2="206.00" y2="242.20" stroke="#8c8c8c" stroke-width="1"/>
<text x="200.20" y="244.30" font-family="&quot;Liberation Serif&quot;, serif" font-size="9" font-weight="normal" text-anchor="end" fill="#000" textLength="20.3" lengthAdjust="spacingAndGlyphs">60000</text>
<line x1="203.50" y1="225.00" x2="206.00" y2="225.00" stroke="#8c8c8c" stroke-width="1"/>
<text x="200.20" y="227.10" font-family="&quot;Liberation Serif&quot;, serif" font-size="9" font-weight="normal" text-anchor="end" fill="#000" textLength="20.3" lengthAdjust="spacingAndGlyphs">70000</text>
<line x1="206.00" y1="345.40" x2="206.00" y2="347.90" stroke="#8c8c8c" stroke-width="1"/>
<text x="206.00" y="359.00" font-family="&quot;Liberation Serif&quot;, serif" font-size="9" font-weight="normal" text-anchor="middle" fill="#000" textLength="3.7" lengthAdjust="spacingAndGlyphs">0</text>
<line x1="248.50" y1="345.40" x2="248.50" y2="347.90" stroke="#8c8c8c" stroke-width="1"/>
<text x="248.50" y="359.00" font-family="&quot;Liberation Serif&quot;, serif" font-size="9" font-weight="normal" text-anchor="middle" fill="#000" textLength="10.5" lengthAdjust="spacingAndGlyphs">100</text>
<line x1="291.00" y1="345.40" x2="291.00" y2="347.90" stroke="#8c8c8c" stroke-width="1"/>
<text x="291.00" y="359.00" font-family="&quot;Liberation Serif&quot;, serif" font-size="9" font-weight="normal" text-anchor="middle" fill="#000" textLength="10.5" lengthAdjust="spacingAndGlyphs">200</text>
<line x1="333.50" y1="345.40" x2="333.50" y2="347.90" stroke="#8c8c8c" stroke-width="1"/>
<text x="333.50" y="359.00" font-family="&quot;Liberation Serif&quot;, serif" font-size="9" font-weight="normal" text-anchor="middle" fill="#000" textLength="10.5" lengthAdjust="spacingAndGlyphs">300</text>
<text x="270.80" y="375.00" font-family="&quot;Liberation Serif&quot;, serif" font-size="10.5" font-weight="normal" text-anchor="middle" fill="#000" textLength="90" lengthAdjust="spacingAndGlyphs">plasma IL-17 (pg/mL)</text>
<text transform="translate(171.8,326.6) rotate(-90)" font-family="&quot;Liberation Serif&quot;, serif" font-size="9.8" textLength="77.5" lengthAdjust="spacingAndGlyphs">PMN counts (µL<tspan font-size="6.5" dy="-3.5">-1</tspan><tspan dy="3.5">)</tspan></text>
<line x1="219.50" y1="322.20" x2="219.50" y2="331.70" stroke="#000" stroke-width="1.4"/>
<line x1="216.25" y1="322.20" x2="222.75" y2="322.20" stroke="#000" stroke-width="1.4"/>
<line x1="216.25" y1="331.70" x2="222.75" y2="331.70" stroke="#000" stroke-width="1.4"/>
<line x1="215.60" y1="326.50" x2="225.30" y2="326.50" stroke="#000" stroke-width="1.4"/>
<line x1="215.60" y1="323.25" x2="215.60" y2="329.75" stroke="#000" stroke-width="1.4"/>
<line x1="225.30" y1="323.25" x2="225.30" y2="329.75" stroke="#000" stroke-width="1.4"/>
<line x1="211.50" y1="342.60" x2="217.60" y2="342.60" stroke="#000" stroke-width="1.2"/>
<line x1="211.60" y1="339.80" x2="211.60" y2="346.50" stroke="#000" stroke-width="1.2"/>
<line x1="217.50" y1="339.80" x2="217.50" y2="346.50" stroke="#000" stroke-width="1.2"/>
<line x1="235.50" y1="276.00" x2="235.50" y2="297.40" stroke="#000" stroke-width="1.4"/>
<line x1="232.10" y1="276.00" x2="238.90" y2="276.00" stroke="#000" stroke-width="1.4"/>
<line x1="232.10" y1="297.40" x2="238.90" y2="297.40" stroke="#000" stroke-width="1.4"/>
<line x1="229.50" y1="286.50" x2="242.30" y2="286.50" stroke="#000" stroke-width="1.4"/>
<line x1="229.50" y1="283.10" x2="229.50" y2="289.90" stroke="#000" stroke-width="1.4"/>
<line x1="242.30" y1="283.10" x2="242.30" y2="289.90" stroke="#000" stroke-width="1.4"/>
<line x1="253.50" y1="283.70" x2="253.50" y2="296.00" stroke="#000" stroke-width="1.4"/>
<line x1="250.50" y1="283.70" x2="256.50" y2="283.70" stroke="#000" stroke-width="1.4"/>
<line x1="250.50" y1="296.00" x2="256.50" y2="296.00" stroke="#000" stroke-width="1.4"/>
<line x1="245.00" y1="288.50" x2="262.60" y2="288.50" stroke="#000" stroke-width="1.4"/>
<line x1="245.00" y1="285.50" x2="245.00" y2="291.50" stroke="#000" stroke-width="1.4"/>
<line x1="262.60" y1="285.50" x2="262.60" y2="291.50" stroke="#000" stroke-width="1.4"/>
<line x1="257.50" y1="272.90" x2="257.50" y2="300.80" stroke="#000" stroke-width="1.4"/>
<line x1="254.40" y1="272.90" x2="260.60" y2="272.90" stroke="#000" stroke-width="1.4"/>
<line x1="254.40" y1="300.80" x2="260.60" y2="300.80" stroke="#000" stroke-width="1.4"/>
<line x1="249.20" y1="287.50" x2="267.60" y2="287.50" stroke="#000" stroke-width="1.4"/>
<line x1="249.20" y1="284.40" x2="249.20" y2="290.60" stroke="#000" stroke-width="1.4"/>
<line x1="267.60" y1="284.40" x2="267.60" y2="290.60" stroke="#000" stroke-width="1.4"/>
<line x1="299.50" y1="254.70" x2="299.50" y2="276.80" stroke="#000" stroke-width="1.4"/>
<line x1="296.30" y1="254.70" x2="302.70" y2="254.70" stroke="#000" stroke-width="1.4"/>
<line x1="296.30" y1="276.80" x2="302.70" y2="276.80" stroke="#000" stroke-width="1.4"/>
<line x1="288.20" y1="265.50" x2="310.90" y2="265.50" stroke="#000" stroke-width="1.4"/>
<line x1="288.20" y1="262.30" x2="288.20" y2="268.70" stroke="#000" stroke-width="1.4"/>
<line x1="310.90" y1="262.30" x2="310.90" y2="268.70" stroke="#000" stroke-width="1.4"/>
<rect x="217.00" y="322.70" width="5.40" height="5.40" fill="#000" stroke="none" stroke-width="1"/>
<rect x="212.10" y="340.10" width="5.00" height="5.00" fill="#000" stroke="none" stroke-width="1"/>
<circle cx="207.00" cy="341.30" r="2.00" fill="#fff" stroke="#000" stroke-width="1.4"/>
<path d="M235.40,285.23 L237.59,289.53 L233.22,289.53 Z" fill="#fff" stroke="#000" stroke-width="1.3" stroke-linejoin="round"/>
<circle cx="253.20" cy="288.50" r="2.20" fill="#fff" stroke="#000" stroke-width="1.1"/>
<rect x="255.40" y="284.60" width="5.00" height="5.00" fill="#000" stroke="none" stroke-width="1"/>
<path d="M299.50,262.60 L302.20,265.30 L299.50,268.00 L296.80,265.30 Z" fill="#fff" stroke="#000" stroke-width="1.1"/>
<text x="336.30" y="220.20" font-family="&quot;Liberation Sans&quot;, sans-serif" font-size="25.5" font-weight="bold" text-anchor="start" fill="#000">F</text>
<line x1="381.60" y1="224.38" x2="381.60" y2="348.02" stroke="#7a7a7a" stroke-width="1.25"/>
<line x1="512.00" y1="224.38" x2="512.00" y2="348.02" stroke="#7a7a7a" stroke-width="1.25"/>
<line x1="380.98" y1="225.00" x2="512.62" y2="225.00" stroke="#7a7a7a" stroke-width="1.25"/>
<line x1="380.98" y1="347.40" x2="512.62" y2="347.40" stroke="#7a7a7a" stroke-width="1.25"/>
<line x1="379.10" y1="346.80" x2="381.60" y2="346.80" stroke="#8c8c8c" stroke-width="1"/>
<text x="375.60" y="348.80" font-family="&quot;Liberation Serif&quot;, serif" font-size="9" font-weight="normal" text-anchor="end" fill="#000" textLength="3.7" lengthAdjust="spacingAndGlyphs">0</text>
<line x1="379.10" y1="329.40" x2="381.60" y2="329.40" stroke="#8c8c8c" stroke-width="1"/>
<text x="375.60" y="331.40" font-family="&quot;Liberation Serif&quot;, serif" font-size="9" font-weight="normal" text-anchor="end" fill="#000" textLength="18.3" lengthAdjust="spacingAndGlyphs">20000</text>
<line x1="379.10" y1="312.00" x2="381.60" y2="312.00" stroke="#8c8c8c" stroke-width="1"/>
<text x="375.60" y="314.00" font-family="&quot;Liberation Serif&quot;, serif" font-size="9" font-weight="normal" text-anchor="end" fill="#000" textLength="18.3" lengthAdjust="spacingAndGlyphs">40000</text>
<line x1="379.10" y1="294.60" x2="381.60" y2="294.60" stroke="#8c8c8c" stroke-width="1"/>
<text x="375.60" y="296.60" font-family="&quot;Liberation Serif&quot;, serif" font-size="9" font-weight="normal" text-anchor="end" fill="#000" textLength="18.3" lengthAdjust="spacingAndGlyphs">60000</text>
<line x1="379.10" y1="277.20" x2="381.60" y2="277.20" stroke="#8c8c8c" stroke-width="1"/>
<text x="375.60" y="279.20" font-family="&quot;Liberation Serif&quot;, serif" font-size="9" font-weight="normal" text-anchor="end" fill="#000" textLength="18.3" lengthAdjust="spacingAndGlyphs">80000</text>
<line x1="379.10" y1="259.80" x2="381.60" y2="259.80" stroke="#8c8c8c" stroke-width="1"/>
<text x="375.60" y="261.80" font-family="&quot;Liberation Serif&quot;, serif" font-size="9" font-weight="normal" text-anchor="end" fill="#000" textLength="24" lengthAdjust="spacingAndGlyphs">100000</text>
<line x1="379.10" y1="242.40" x2="381.60" y2="242.40" stroke="#8c8c8c" stroke-width="1"/>
<text x="375.60" y="244.40" font-family="&quot;Liberation Serif&quot;, serif" font-size="9" font-weight="normal" text-anchor="end" fill="#000" textLength="24" lengthAdjust="spacingAndGlyphs">120000</text>
<line x1="379.10" y1="225.00" x2="381.60" y2="225.00" stroke="#8c8c8c" stroke-width="1"/>
<text x="375.60" y="227.00" font-family="&quot;Liberation Serif&quot;, serif" font-size="9" font-weight="normal" text-anchor="end" fill="#000" textLength="24" lengthAdjust="spacingAndGlyphs">140000</text>
<line x1="381.60" y1="347.40" x2="381.60" y2="349.90" stroke="#8c8c8c" stroke-width="1"/>
<text x="381.60" y="362.00" font-family="&quot;Liberation Serif&quot;, serif" font-size="9" font-weight="normal" text-anchor="middle" fill="#000" textLength="3.7" lengthAdjust="spacingAndGlyphs">0</text>
<line x1="425.07" y1="347.40" x2="425.07" y2="349.90" stroke="#8c8c8c" stroke-width="1"/>
<text x="425.07" y="362.00" font-family="&quot;Liberation Serif&quot;, serif" font-size="9" font-weight="normal" text-anchor="middle" fill="#000" textLength="10.5" lengthAdjust="spacingAndGlyphs">200</text>
<line x1="468.53" y1="347.40" x2="468.53" y2="349.90" stroke="#8c8c8c" stroke-width="1"/>
<text x="468.53" y="362.00" font-family="&quot;Liberation Serif&quot;, serif" font-size="9" font-weight="normal" text-anchor="middle" fill="#000" textLength="10.5" lengthAdjust="spacingAndGlyphs">400</text>
<line x1="512.00" y1="347.40" x2="512.00" y2="349.90" stroke="#8c8c8c" stroke-width="1"/>
<text x="512.00" y="362.00" font-family="&quot;Liberation Serif&quot;, serif" font-size="9" font-weight="normal" text-anchor="middle" fill="#000" textLength="10.5" lengthAdjust="spacingAndGlyphs">600</text>
<text x="451.70" y="376.00" font-family="&quot;Liberation Serif&quot;, serif" font-size="10.5" font-weight="normal" text-anchor="middle" fill="#000" textLength="86" lengthAdjust="spacingAndGlyphs">plasma IL-17 (pg/mL)</text>
<text transform="translate(347,327) rotate(-90)" font-family="&quot;Liberation Serif&quot;, serif" font-size="9.8" textLength="77" lengthAdjust="spacingAndGlyphs">PMN counts (µL<tspan font-size="6.5" dy="-3.5">-1</tspan><tspan dy="3.5">)</tspan></text>
<text x="486.8" y="262.8" font-family="&quot;Liberation Serif&quot;, serif" font-size="10.2" textLength="20.8" lengthAdjust="spacingAndGlyphs">r<tspan font-size="7" fill="#666" stroke="#666" dy="-0.8">=</tspan><tspan dy="0.8">.62</tspan></text>
<line x1="384.00" y1="345.60" x2="491.70" y2="271.30" stroke="#000" stroke-width="4.2"/>
<path d="M402.90,245.34 L405.75,251.04 L400.05,251.04 Z" fill="#000"/>
<path d="M413.40,243.39 L415.63,247.78 L411.17,247.78 Z" fill="#fff" stroke="#000" stroke-width="1.4" stroke-linejoin="round"/>
<path d="M410.20,252.39 L412.43,256.78 L407.97,256.78 Z" fill="#fff" stroke="#000" stroke-width="1.4" stroke-linejoin="round"/>
<path d="M439.30,243.54 L442.15,249.24 L436.45,249.24 Z" fill="#000"/>
<path d="M442.50,272.44 L445.35,278.14 L439.65,278.14 Z" fill="#000"/>
<path d="M399.20,287.50 L401.70,290.00 L399.20,292.50 L396.70,290.00 Z" fill="#fff" stroke="#000" stroke-width="1.4"/>
<path d="M420.40,286.09 L422.63,290.48 L418.17,290.48 Z" fill="#fff" stroke="#000" stroke-width="1.4" stroke-linejoin="round"/>
<path d="M467.00,229.84 L469.85,235.54 L464.15,235.54 Z" fill="#000"/>
<path d="M460.70,264.04 L463.55,269.74 L457.85,269.74 Z" fill="#000"/>
<path d="M464.70,273.10 L467.20,275.60 L464.70,278.10 L462.20,275.60 Z" fill="#fff" stroke="#000" stroke-width="1.4"/>
<path d="M457.60,297.30 L460.10,299.80 L457.60,302.30 L455.10,299.80 Z" fill="#fff" stroke="#000" stroke-width="1.4"/>
<path d="M451.70,302.10 L454.20,304.60 L451.70,307.10 L449.20,304.60 Z" fill="#fff" stroke="#000" stroke-width="1.4"/>
<path d="M471.80,297.30 L474.30,299.80 L471.80,302.30 L469.30,299.80 Z" fill="#fff" stroke="#000" stroke-width="1.4"/>
<path d="M473.80,321.80 L476.30,324.30 L473.80,326.80 L471.30,324.30 Z" fill="#fff" stroke="#000" stroke-width="1.4"/>
<path d="M443.30,316.30 L445.80,318.80 L443.30,321.30 L440.80,318.80 Z" fill="#fff" stroke="#000" stroke-width="1.4"/>
<path d="M436.40,317.20 L438.90,319.70 L436.40,322.20 L433.90,319.70 Z" fill="#fff" stroke="#000" stroke-width="1.4"/>
<path d="M445.70,321.40 L448.60,324.30 L445.70,327.20 L442.80,324.30 Z" fill="#000"/>
<path d="M448.00,323.30 L450.90,326.20 L448.00,329.10 L445.10,326.20 Z" fill="#000"/>
<path d="M431.00,326.50 L433.50,329.00 L431.00,331.50 L428.50,329.00 Z" fill="#fff" stroke="#000" stroke-width="1.4"/>
<path d="M432.80,301.50 L435.30,304.00 L432.80,306.50 L430.30,304.00 Z" fill="#fff" stroke="#000" stroke-width="1.4"/>
<path d="M434.60,305.30 L437.10,307.80 L434.60,310.30 L432.10,307.80 Z" fill="#fff" stroke="#000" stroke-width="1.4"/>
<path d="M435.50,312.60 L438.00,315.10 L435.50,317.60 L433.00,315.10 Z" fill="#fff" stroke="#000" stroke-width="1.4"/>
<path d="M429.30,296.49 L431.53,300.88 L427.07,300.88 Z" fill="#fff" stroke="#000" stroke-width="1.4" stroke-linejoin="round"/>
<path d="M426.20,299.00 L428.70,301.50 L426.20,304.00 L423.70,301.50 Z" fill="#fff" stroke="#000" stroke-width="1.4"/>
<path d="M395.30,300.99 L397.53,305.38 L393.07,305.38 Z" fill="#fff" stroke="#000" stroke-width="1.4" stroke-linejoin="round"/>
<rect x="407.80" y="302.00" width="4.40" height="4.40" fill="#fff" stroke="#000" stroke-width="1.4"/>
<rect x="410.40" y="300.40" width="4.40" height="4.40" fill="#fff" stroke="#000" stroke-width="1.4"/>
<path d="M385.30,309.10 L387.80,311.60 L385.30,314.10 L382.80,311.60 Z" fill="#fff" stroke="#000" stroke-width="1.4"/>
<rect x="389.20" y="306.10" width="5.80" height="5.80" fill="#000" stroke="none" stroke-width="1"/>
<rect x="389.20" y="309.70" width="5.80" height="5.80" fill="#000" stroke="none" stroke-width="1"/>
<rect x="389.10" y="311.80" width="5.80" height="5.80" fill="#000" stroke="none" stroke-width="1"/>
<path d="M390.50,315.69 L392.73,320.08 L388.27,320.08 Z" fill="#fff" stroke="#000" stroke-width="1.4" stroke-linejoin="round"/>
<path d="M392.60,315.39 L394.83,319.78 L390.37,319.78 Z" fill="#fff" stroke="#000" stroke-width="1.4" stroke-linejoin="round"/>
<rect x="398.70" y="305.50" width="5.80" height="5.80" fill="#000" stroke="none" stroke-width="1"/>
<path d="M402.10,311.44 L404.95,317.14 L399.25,317.14 Z" fill="#000"/>
<path d="M407.40,308.50 L409.90,311.00 L407.40,313.50 L404.90,311.00 Z" fill="#fff" stroke="#000" stroke-width="1.4"/>
<rect x="415.20" y="315.20" width="4.40" height="4.40" fill="#fff" stroke="#000" stroke-width="1.4"/>
<rect x="404.50" y="318.90" width="5.80" height="5.80" fill="#000" stroke="none" stroke-width="1"/>
<rect x="410.80" y="319.60" width="4.40" height="4.40" fill="#fff" stroke="#000" stroke-width="1.4"/>
<path d="M427.60,326.10 L430.10,328.60 L427.60,331.10 L425.10,328.60 Z" fill="#fff" stroke="#000" stroke-width="1.4"/>
<path d="M430.10,327.30 L432.60,329.80 L430.10,332.30 L427.60,329.80 Z" fill="#fff" stroke="#000" stroke-width="1.4"/>
<path d="M382,261.9 L384.9,264.8 L382,267.7 L379.1,264.8 Z" fill="none" stroke="#000" stroke-width="1.5"/>
<path d="M379.2,348.5 L379.2,335 L381.5,329 L383,325.5 L386,324 L389.5,324 L391.3,325.5 L392,331 L395,334 L396.5,338 L399.7,340.5 L399.7,348.5 Z" fill="#000"/>
<path d="M391.5,333.5 L394.5,332.5 L396.8,330 L396.8,324.3 L400,324 L403,322 L406,320.4 L410,320.2 L413,320.8 L416,319 L419,318 L423,317 L424,324.5 L418,329 L413.5,332.6 L409,335 L405,337.2 L403,340.9 L400.5,344.8 L399.7,347 L396,345 Z" fill="#000"/>
<circle cx="399.9" cy="326.2" r="1.1" fill="#fff"/>
<circle cx="407.4" cy="327.9" r="1.2" fill="#fff"/>
<circle cx="413.3" cy="322.6" r="1" fill="#fff"/>
<circle cx="417.2" cy="321.4" r="0.9" fill="#fff"/>
<circle cx="403.5" cy="331.5" r="0.8" fill="#fff"/>
<path d="M384.1,331.9 L390.2,331.9 L389.2,335.1 L385.1,335.1 Z" fill="#fff"/>
<circle cx="388.4" cy="325.6" r="1" fill="#fff"/>
<circle cx="384.3" cy="327.5" r="0.9" fill="#999"/>
<path d="M380.3,331.8 L381.8,334.6 L378.8,334.6 Z" fill="#999"/>
<path d="M391.3,332.4 L392.8,335.2 L389.8,335.2 Z" fill="#999"/>
<path d="M414.70,320.50 L416.60,322.40 L414.70,324.30 L412.80,322.40 Z" fill="#fff" stroke="#000" stroke-width="1"/>
</svg>
</body></html>
